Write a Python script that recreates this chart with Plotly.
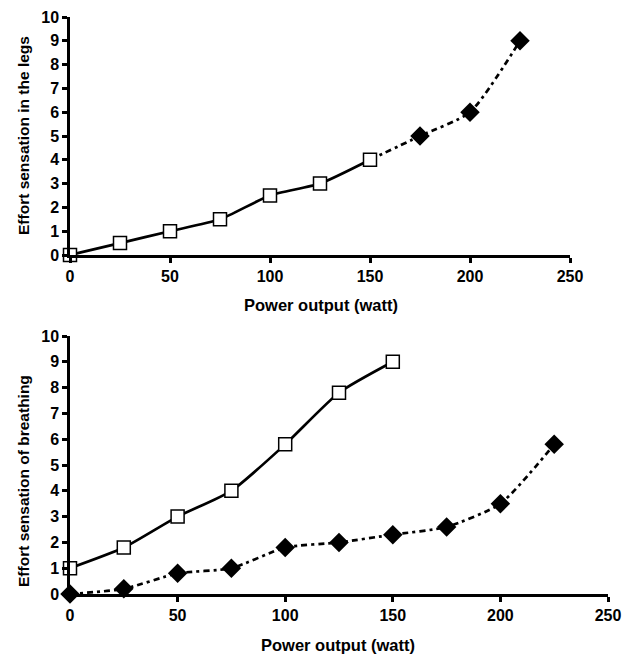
import plotly.graph_objects as go

# ---- data ----
power_top_solid = [0, 25, 50, 75, 100, 125, 150]
legs_solid = [0, 0.5, 1, 1.5, 2.5, 3, 4]
power_top_dashed = [150, 175, 200, 225]
legs_dashed = [4, 5, 6, 9]

power_bottom_squares = [0, 25, 50, 75, 100, 125, 150]
breathing_squares = [1, 1.8, 3, 4, 5.8, 7.8, 9]
power_bottom_diamonds = [0, 25, 50, 75, 100, 125, 150, 175, 200, 225]
breathing_diamonds = [0, 0.2, 0.8, 1, 1.8, 2, 2.3, 2.6, 3.5, 5.8]

x_ticks = [0, 50, 100, 150, 200, 250]
y_ticks = list(range(0, 11))

x_title = "Power output (watt)"
y_title_top = "Effort sensation in the legs"
y_title_bottom = "Effort sensation of breathing"

DASH = "6px,4px,3px,4px"
TICKFONT = dict(family="Liberation Sans, Arial, sans-serif", size=16, color="black", weight="bold")
YTITLEFONT = dict(family="Liberation Sans, Arial, sans-serif", size=15.5, color="black", weight="bold")
XTITLEFONT = dict(family="Liberation Sans, Arial, sans-serif", size=16.5, color="black", weight="bold")

fig = go.Figure()

# top panel
fig.add_trace(go.Scatter(x=power_top_dashed, y=legs_dashed, mode="lines",
                         line=dict(color="black", width=2.7, dash=DASH, shape="spline", smoothing=0.6),
                         xaxis="x", yaxis="y", showlegend=False, cliponaxis=False))
fig.add_trace(go.Scatter(x=power_top_solid, y=legs_solid, mode="lines+markers",
                         line=dict(color="black", width=2.7, shape="spline", smoothing=0.6),
                         marker=dict(symbol="square", size=13, color="white",
                                     line=dict(color="black", width=1.5)),
                         xaxis="x", yaxis="y", showlegend=False, cliponaxis=False))
fig.add_trace(go.Scatter(x=power_top_dashed[1:], y=legs_dashed[1:], mode="markers",
                         marker=dict(symbol="diamond", size=15, color="black"),
                         xaxis="x", yaxis="y", showlegend=False, cliponaxis=False))

# bottom panel
fig.add_trace(go.Scatter(x=power_bottom_diamonds, y=breathing_diamonds, mode="lines+markers",
                         line=dict(color="black", width=2.7, dash=DASH, shape="spline", smoothing=0.6),
                         marker=dict(symbol="diamond", size=15, color="black"),
                         xaxis="x2", yaxis="y2", showlegend=False, cliponaxis=False))
fig.add_trace(go.Scatter(x=power_bottom_squares, y=breathing_squares, mode="lines+markers",
                         line=dict(color="black", width=2.7, shape="spline", smoothing=0.6),
                         marker=dict(symbol="square", size=13, color="white",
                                     line=dict(color="black", width=1.5)),
                         xaxis="x2", yaxis="y2", showlegend=False, cliponaxis=False))

# page has an 8px body margin, so work in window pixels and shift
OFF = 8
W, H = 631 - OFF, 654 - OFF

def px(x):
    return (x - OFF) / W

def py(y):
    return 1 - (y - OFF) / H

def xax(x0, x1, anchor):
    return dict(domain=[px(x0), px(x1)], anchor=anchor, range=[0, 250], tickvals=x_ticks,
                showline=True, linecolor="black", linewidth=2.5, mirror=False,
                ticks="outside", ticklen=5, tickwidth=2.5, tickcolor="black",
                showgrid=False, zeroline=False, tickfont=TICKFONT, automargin=False)

def yax(y_bottom, y_top, anchor):
    return dict(domain=[py(y_bottom), py(y_top)], anchor=anchor, range=[0, 10], tickvals=y_ticks,
                showline=True, linecolor="black", linewidth=2.5, mirror=False,
                ticks="outside", ticklen=5, tickwidth=2.5, tickcolor="black",
                showgrid=False, zeroline=False, tickfont=TICKFONT, automargin=False)

def ann(text, x, y, font, rot=0):
    return dict(text=text, x=px(x), y=py(y), xref="paper", yref="paper",
                showarrow=False, textangle=rot, font=font,
                xanchor="center", yanchor="middle")

fig.update_layout(
    width=W, height=H,
    margin=dict(l=0, r=0, t=0, b=0),
    paper_bgcolor="white", plot_bgcolor="white",
    font=TICKFONT,
    xaxis=xax(70, 570, "y"),
    yaxis=yax(255, 17, "x"),
    xaxis2=xax(70, 608, "y2"),
    yaxis2=yax(594, 336, "x2"),
    annotations=[
        ann(x_title, 321, 305, XTITLEFONT),
        ann(x_title, 338, 645, XTITLEFONT),
        ann(y_title_top, 23, 136, YTITLEFONT, -90),
        ann(y_title_bottom, 23, 481, YTITLEFONT, -90),
    ],
)

fig.write_html("out.html")
